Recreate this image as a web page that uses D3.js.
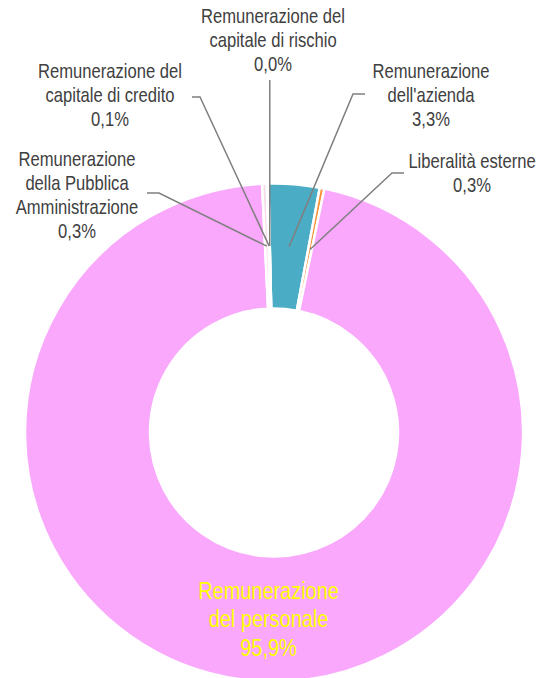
<!DOCTYPE html>
<html><head><meta charset="utf-8">
<script src="https://cdn.jsdelivr.net/npm/d3@7"></script>
<style>html,body{margin:0;padding:0;background:#fff;} svg{display:block;}</style>
</head><body><svg id="chart" width="540" height="678"></svg>
<script>
// ---- data ----
const categories = [
  "Remunerazione dell'azienda",
  "Liberalità esterne",
  "Remunerazione del personale",
  "Remunerazione della Pubblica Amministrazione",
  "Remunerazione del capitale di credito",
  "Remunerazione del capitale di rischio"
];
const values = [3.3, 0.3, 95.9, 0.3, 0.1, 0.0];
const labelLines = [
  ["Remunerazione", "dell'azienda"],
  ["Liberalità esterne"],
  ["Remunerazione", "del personale"],
  ["Remunerazione", "della Pubblica", "Amministrazione"],
  ["Remunerazione del", "capitale di credito"],
  ["Remunerazione del", "capitale di rischio"]
];
const colors = ["#4BACC6", "#F7923A", "#F9A8FC", "#F6DCE8", "#C0504D", "#9BBB59"];

// ---- layout (label anchors, not data) ----
const labelLayout = [
  {x: 431, y: 78,  lead: [[353, 94], [365, 94]]},
  {x: 472, y: 168, lead: [[392, 173], [404, 173]]},
  {x: 268.5, y: 599, size: 24, lh: 28.5, color: "#FFFF00"},
  {x: 77,  y: 166, lead: [[159, 193], [147, 193]]},
  {x: 110, y: 78,  lead: [[200, 97], [192, 97]]},
  {x: 273, y: 23,  vertical: 80}
];

const W = 540, H = 678;
const cx = 274, cy = 432.5;
const rOuter = 249, rInner = 124;
const rot = -1.3 * Math.PI / 180;

const svg = d3.select("#chart");
const g = svg.append("g").attr("transform", `translate(${cx},${cy})`);

const pie = d3.pie().sort(null).value(d => d).startAngle(rot).endAngle(rot + 2 * Math.PI);
const arcs = pie(values);
const arc = d3.arc().innerRadius(rInner).outerRadius(rOuter);

g.selectAll("path.slice").data(arcs).join("path")
  .attr("class", "slice")
  .attr("d", arc)
  .attr("fill", (d, i) => colors[i])
  .attr("stroke", "#fff")
  .attr("stroke-width", 2.5)
  .attr("stroke-linejoin", "miter");

const fmt = v => d3.format(".1f")(v).replace(".", ",") + "%";

// leader lines
arcs.forEach((a, i) => {
  const L = labelLayout[i];
  const c = arc.centroid(a);
  const px = c[0] + cx, py = c[1] + cy;
  let pts = null;
  if (L.vertical !== undefined) {
    pts = [[px, L.vertical], [px, py]];
  } else if (L.lead) {
    pts = [L.lead[1], L.lead[0], [px, py]];
  }
  if (pts) {
    svg.append("path")
      .attr("d", d3.line()(pts))
      .attr("fill", "none")
      .attr("stroke", "#7F7F7F")
      .attr("stroke-width", 1.5);
  }
});

// labels
arcs.forEach((a, i) => {
  const L = labelLayout[i];
  const size = L.size || 20;
  const lh = L.lh || 24;
  const lines = labelLines[i].concat([fmt(values[i])]);
  const tg = svg.append("g")
    .attr("transform", `translate(${L.x},${L.y}) scale(0.83,1)`);
  tg.selectAll("text").data(lines).join("text")
    .attr("x", 0)
    .attr("y", (d, k) => k * lh)
    .attr("text-anchor", "middle")
    .attr("font-family", "'Liberation Sans', Arial, sans-serif")
    .attr("font-size", size)
    .attr("fill", L.color || "#404040")
    .text(d => d);
});
</script>
</body></html>
